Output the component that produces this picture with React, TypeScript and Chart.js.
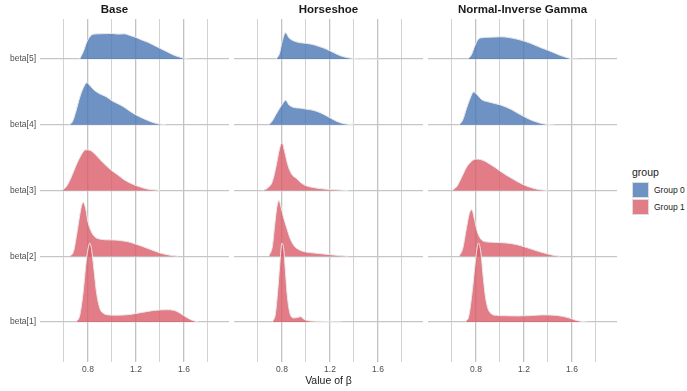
import React, { useEffect, useRef } from 'react';
import { Chart, registerables } from 'chart.js';
Chart.register(...registerables);

// ---------- data ----------
const rowLabels = ['beta[1]', 'beta[2]', 'beta[3]', 'beta[4]', 'beta[5]'];
const rowPos = [1, 2, 3, 4, 5];
const rowGroup = [1, 1, 1, 0, 0];
const groupLabels = ['Group 0', 'Group 1'];
const xTicks = [0.6, 0.8, 1.0, 1.2, 1.4, 1.6, 1.8];
const labeledTicks = [0.8, 1.2, 1.6];
const panelTitles = ['Base', 'Horseshoe', 'Normal-Inverse Gamma'];

// Base
const baseB1X = [0.70, 0.73, 0.76, 0.78, 0.80, 0.815, 0.83, 0.85, 0.87, 0.90, 0.93, 0.97, 1.05, 1.15, 1.25, 1.35, 1.45, 1.52, 1.57, 1.62, 1.67, 1.72];
const baseB1H = [0, 0.09, 0.46, 0.84, 1.11, 1.2, 1.10, 0.79, 0.46, 0.2, 0.13, 0.107, 0.103, 0.114, 0.145, 0.175, 0.186, 0.175, 0.13, 0.07, 0.023, 0];
const baseB2X = [0.65, 0.68, 0.71, 0.74, 0.76, 0.78, 0.80, 0.83, 0.86, 0.90, 0.95, 1.00, 1.05, 1.10, 1.15, 1.20, 1.25, 1.30, 1.35, 1.40, 1.45, 1.50, 1.55];
const baseB2H = [0, 0.075, 0.38, 0.715, 0.82, 0.73, 0.52, 0.365, 0.29, 0.26, 0.25, 0.248, 0.244, 0.23, 0.213, 0.183, 0.152, 0.117, 0.082, 0.05, 0.027, 0.01, 0];
const baseB3X = [0.58, 0.62, 0.66, 0.70, 0.74, 0.78, 0.82, 0.86, 0.90, 0.95, 1.00, 1.05, 1.10, 1.15, 1.20, 1.25, 1.30, 1.35, 1.40];
const baseB3H = [0, 0.06, 0.2, 0.38, 0.53, 0.62, 0.61, 0.55, 0.47, 0.38, 0.30, 0.235, 0.165, 0.115, 0.075, 0.045, 0.02, 0.01, 0];
const baseB4X = [0.64, 0.67, 0.70, 0.73, 0.76, 0.79, 0.82, 0.85, 0.90, 0.95, 1.00, 1.05, 1.10, 1.15, 1.20, 1.25, 1.30, 1.35, 1.40, 1.45];
const baseB4H = [0, 0.045, 0.21, 0.41, 0.56, 0.64, 0.59, 0.53, 0.47, 0.43, 0.365, 0.32, 0.27, 0.205, 0.15, 0.105, 0.065, 0.03, 0.01, 0];
const baseB5X = [0.73, 0.76, 0.79, 0.82, 0.85, 0.90, 0.95, 1.00, 1.05, 1.10, 1.15, 1.20, 1.25, 1.30, 1.35, 1.40, 1.45, 1.50, 1.55, 1.60, 1.65];
const baseB5H = [0, 0.11, 0.26, 0.35, 0.38, 0.385, 0.388, 0.39, 0.38, 0.385, 0.36, 0.33, 0.29, 0.255, 0.21, 0.163, 0.12, 0.073, 0.038, 0.012, 0];

// Horseshoe
const hsB1X = [0.72, 0.745, 0.765, 0.78, 0.80, 0.815, 0.83, 0.845, 0.87, 0.90, 0.93, 0.955, 0.98, 1.01, 1.10, 1.20, 1.30];
const hsB1H = [0, 0.12, 0.49, 0.84, 1.2, 1.10, 0.73, 0.38, 0.107, 0.061, 0.068, 0.08, 0.046, 0.02, 0.009, 0.005, 0];
const hsB2X = [0.69, 0.72, 0.74, 0.76, 0.775, 0.79, 0.81, 0.84, 0.87, 0.90, 0.95, 1.00, 1.05, 1.10, 1.20, 1.30, 1.35];
const hsB2H = [0, 0.152, 0.487, 0.776, 0.848, 0.76, 0.61, 0.426, 0.26, 0.16, 0.091, 0.064, 0.052, 0.043, 0.024, 0.006, 0];
const hsB3X = [0.64, 0.68, 0.72, 0.75, 0.78, 0.80, 0.82, 0.85, 0.88, 0.92, 0.96, 1.00, 1.05, 1.10, 1.20, 1.30, 1.35];
const hsB3H = [0, 0.038, 0.137, 0.365, 0.64, 0.73, 0.61, 0.38, 0.25, 0.183, 0.114, 0.073, 0.049, 0.033, 0.015, 0.005, 0];
const hsB4X = [0.69, 0.72, 0.75, 0.78, 0.81, 0.83, 0.86, 0.90, 0.95, 1.00, 1.05, 1.10, 1.15, 1.20, 1.25, 1.30, 1.35, 1.40];
const hsB4H = [0, 0.06, 0.16, 0.25, 0.335, 0.375, 0.30, 0.263, 0.254, 0.239, 0.225, 0.198, 0.157, 0.107, 0.058, 0.024, 0.008, 0];
const hsB5X = [0.75, 0.78, 0.80, 0.83, 0.86, 0.90, 0.95, 1.00, 1.05, 1.10, 1.15, 1.20, 1.25, 1.30, 1.35, 1.40, 1.50, 1.60];
const hsB5H = [0, 0.09, 0.26, 0.40, 0.32, 0.275, 0.25, 0.24, 0.225, 0.198, 0.167, 0.126, 0.08, 0.043, 0.02, 0.008, 0.003, 0];

// Normal-Inverse Gamma
const nigB1X = [0.71, 0.74, 0.77, 0.79, 0.82, 0.84, 0.86, 0.88, 0.90, 0.93, 0.97, 1.05, 1.15, 1.25, 1.35, 1.45, 1.52, 1.58, 1.63, 1.68, 1.72];
const nigB1H = [0, 0.09, 0.49, 0.84, 1.2, 1.066, 0.685, 0.365, 0.2, 0.122, 0.1, 0.094, 0.091, 0.096, 0.107, 0.103, 0.085, 0.058, 0.027, 0.008, 0];
const nigB2X = [0.66, 0.69, 0.72, 0.745, 0.765, 0.785, 0.81, 0.84, 0.88, 0.93, 1.00, 1.05, 1.10, 1.15, 1.20, 1.25, 1.30, 1.35, 1.40, 1.45, 1.50];
const nigB2H = [0, 0.12, 0.426, 0.654, 0.706, 0.578, 0.38, 0.26, 0.22, 0.213, 0.207, 0.202, 0.19, 0.172, 0.145, 0.116, 0.085, 0.058, 0.033, 0.012, 0];
const nigB3X = [0.60, 0.64, 0.68, 0.72, 0.76, 0.80, 0.84, 0.88, 0.92, 0.96, 1.00, 1.05, 1.10, 1.15, 1.20, 1.25, 1.30, 1.35, 1.40];
const nigB3H = [0, 0.06, 0.2, 0.35, 0.44, 0.478, 0.47, 0.44, 0.396, 0.35, 0.297, 0.236, 0.183, 0.13, 0.084, 0.049, 0.023, 0.008, 0];
const nigB4X = [0.66, 0.69, 0.72, 0.75, 0.78, 0.81, 0.85, 0.90, 0.95, 1.00, 1.05, 1.10, 1.15, 1.20, 1.25, 1.30, 1.35, 1.40, 1.45];
const nigB4H = [0, 0.076, 0.244, 0.396, 0.50, 0.457, 0.38, 0.35, 0.327, 0.304, 0.27, 0.228, 0.175, 0.126, 0.08, 0.046, 0.018, 0.005, 0];
const nigB5X = [0.73, 0.76, 0.79, 0.82, 0.86, 0.90, 0.95, 1.00, 1.05, 1.10, 1.15, 1.20, 1.25, 1.30, 1.35, 1.40, 1.45, 1.50, 1.55, 1.60, 1.65];
const nigB5H = [0, 0.06, 0.2, 0.305, 0.327, 0.332, 0.335, 0.34, 0.335, 0.32, 0.30, 0.274, 0.244, 0.205, 0.167, 0.134, 0.096, 0.058, 0.026, 0.005, 0];

const panelSeries = [
  [[baseB1X, baseB1H], [baseB2X, baseB2H], [baseB3X, baseB3H], [baseB4X, baseB4H], [baseB5X, baseB5H]],
  [[hsB1X, hsB1H], [hsB2X, hsB2H], [hsB3X, hsB3H], [hsB4X, hsB4H], [hsB5X, hsB5H]],
  [[nigB1X, nigB1H], [nigB2X, nigB2H], [nigB3X, nigB3H], [nigB4X, nigB4H], [nigB5X, nigB5H]],
];

// ---------- style / layout ----------
const FONT = "'Liberation Sans', Arial, Helvetica, sans-serif";
const fillColors = ['rgba(74,119,181,0.8)', 'rgba(219,91,104,0.8)'];
const keyColors = ['rgb(110,146,196)', 'rgb(226,124,134)'];
const outline = 'rgba(232,232,232,1)';
const panelBoxes = [
  { left: 0, width: 229, yAxis: 40 },
  { left: 234, width: 189, yAxis: 0 },
  { left: 428, width: 189, yAxis: 0 },
];
const H = 391;

function makeConfig(p: number): any {
  const series = panelSeries[p];
  const datasets = series.map(([xs, hs], i) => ({
    label: rowLabels[i],
    data: xs.map((x, j) => ({ x, y: rowPos[i] + hs[j] })),
    fill: { value: rowPos[i] },
    backgroundColor: fillColors[rowGroup[i]],
    borderColor: outline,
    borderWidth: 1,
    pointRadius: 0,
    cubicInterpolationMode: 'monotone',
  }));
  const box = panelBoxes[p];
  return {
    type: 'line',
    data: { datasets },
    options: {
      animation: false,
      responsive: false,
      maintainAspectRatio: false,
      events: [],
      layout: { padding: 0 },
      plugins: {
        legend: { display: false },
        tooltip: { enabled: false },
        title: {
          display: true,
          text: panelTitles[p],
          color: '#1a1a1a',
          font: { family: FONT, size: 11.5, weight: 'bold' },
          padding: { top: 3, bottom: 2.2 },
        },
      },
      scales: {
        x: {
          type: 'linear',
          min: 0.4,
          max: 1.975,
          afterBuildTicks: (s: any) => {
            s.ticks = xTicks.map((v) => ({ value: v }));
          },
          afterFit: (s: any) => {
            s.height = 29;
          },
          ticks: {
            autoSkip: false,
            maxRotation: 0,
            padding: 3,
            color: '#4d4d4d',
            font: { family: FONT, size: 8.5 },
            callback: (v: number) => (labeledTicks.includes(v) ? v.toFixed(1) : ''),
          },
          grid: {
            drawTicks: false,
            color: (ctx: any) => (labeledTicks.includes(ctx.tick && ctx.tick.value) ? '#c2c2c2' : '#d2d2d2'),
            lineWidth: (ctx: any) => (labeledTicks.includes(ctx.tick && ctx.tick.value) ? 1.3 : 1),
          },
          border: { display: false },
          title: {
            display: p === 1,
            text: 'Value of β',
            color: '#1a1a1a',
            font: { family: FONT, size: 10.5 },
            padding: { top: 0, bottom: 3.7 },
          },
        },
        y: {
          type: 'linear',
          min: 0.39,
          max: 5.61,
          afterBuildTicks: (s: any) => {
            s.ticks = rowPos.map((v) => ({ value: v }));
          },
          afterFit: (s: any) => {
            s.width = box.yAxis;
          },
          ticks: {
            display: box.yAxis > 0,
            padding: 4,
            color: '#4d4d4d',
            font: { family: FONT, size: 8.5 },
            callback: (v: number) => rowLabels[v - 1],
          },
          grid: { drawTicks: false, color: '#c6c6c6', lineWidth: 1.3 },
          border: { display: false },
        },
      },
    },
  };
}

export default function App() {
  const refs = [useRef<HTMLCanvasElement>(null), useRef<HTMLCanvasElement>(null), useRef<HTMLCanvasElement>(null)];
  useEffect(() => {
    Chart.defaults.font.family = FONT;
    const charts = refs.map((r, p) => new Chart(r.current as HTMLCanvasElement, makeConfig(p)));
    return () => charts.forEach((c) => c.destroy());
  }, []);

  return (
    <div style={{ position: 'absolute', left: 0, top: 0, width: 687, height: H, background: '#fff', fontFamily: FONT }}>
      {panelBoxes.map((b, p) => (
        <canvas
          key={p}
          ref={refs[p]}
          width={b.width}
          height={H}
          style={{ position: 'absolute', left: b.left, top: 0, width: b.width, height: H }}
        />
      ))}
      <div style={{ position: 'absolute', left: 632, top: 165, fontSize: 10.5, color: '#1a1a1a', lineHeight: '14px' }}>group</div>
      {groupLabels.map((g, i) => (
        <React.Fragment key={g}>
          <div
            style={{
              position: 'absolute',
              left: 632,
              top: 182 + i * 17,
              width: 15,
              height: 14,
              background: keyColors[i],
              border: '1px solid #dcdcdc',
            }}
          />
          <div style={{ position: 'absolute', left: 654, top: 183 + i * 17, fontSize: 8.5, color: '#1a1a1a', lineHeight: '14px' }}>{g}</div>
        </React.Fragment>
      ))}
    </div>
  );
}
